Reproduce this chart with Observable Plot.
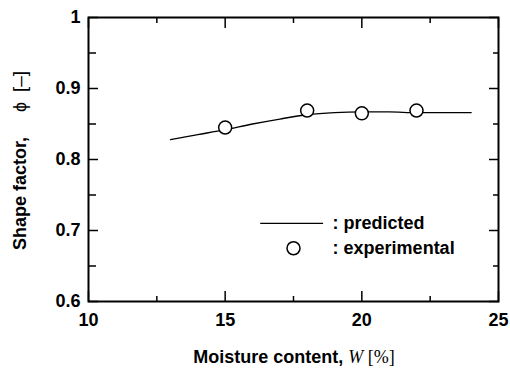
<!DOCTYPE html>
<html>
<head>
<meta charset="utf-8">
<script src="https://cdn.jsdelivr.net/npm/d3@7"></script>
<script src="https://cdn.jsdelivr.net/npm/@observablehq/plot@0.6"></script>
<style>
  html, body { margin: 0; padding: 0; background: #fff; }
  #chart svg { display: block; overflow: visible; }
</style>
</head>
<body>
<div id="chart"></div>
<script>
// ---- data ----
const predictedW   = [13, 14, 15, 16, 17, 18, 19, 20, 21, 22, 23, 24];
const predictedPhi = [0.828, 0.835, 0.842, 0.850, 0.857, 0.863, 0.866, 0.867, 0.867, 0.866, 0.866, 0.866];
const experimentalW   = [15, 18, 20, 22];
const experimentalPhi = [0.845, 0.869, 0.865, 0.869];

const xMajorTicks = [10, 15, 20, 25];
const xMinorTicks = [12.5, 17.5, 22.5];
const yMajorTicks = [0.6, 0.7, 0.8, 0.9, 1];
const yMinorTicks = [0.65, 0.75, 0.85, 0.95];
const xTickLabels = ["10", "15", "20", "25"];
const yTickLabels = ["0.6", "0.7", "0.8", "0.9", "1"];

const legendLabels = [": predicted", ": experimental"];

// ---- layout (legend placement in axis units) ----
const legendLineX = [16.3, 18.6];
const legendRowY = [0.710, 0.675];
const legendSymbolX = 17.5;
const legendTextX = 18.93;

const predicted = predictedW.map((w, i) => ({w, phi: predictedPhi[i]}));
const experimental = experimentalW.map((w, i) => ({w, phi: experimentalPhi[i]}));

const font = "'Liberation Sans', Arial, Helvetica, sans-serif";
const tickText = {fontSize: 18, fontWeight: "bold", fontFamily: font};

const chart = Plot.plot({
  width: 510,
  height: 368,
  marginLeft: 88,
  marginRight: 12,
  marginTop: 17,
  marginBottom: 67,
  style: {fontFamily: font, color: "#000", background: "#fff"},
  x: {domain: [10, 25]},
  y: {domain: [0.6, 1]},
  marks: [
    // inward ticks
    Plot.axisX(xMajorTicks, {anchor: "bottom", tickSize: -10, tickFormat: () => "", label: null, strokeWidth: 1.5}),
    Plot.axisX(xMinorTicks, {anchor: "bottom", tickSize: -5, tickFormat: () => "", label: null, strokeWidth: 1.5}),
    Plot.axisX(xMajorTicks, {anchor: "top", tickSize: -10, tickFormat: () => "", label: null, strokeWidth: 1.5}),
    Plot.axisX(xMinorTicks, {anchor: "top", tickSize: -5, tickFormat: () => "", label: null, strokeWidth: 1.5}),
    Plot.axisY(yMajorTicks, {anchor: "left", tickSize: -10, tickFormat: () => "", label: null, strokeWidth: 1.5}),
    Plot.axisY(yMinorTicks, {anchor: "left", tickSize: -8, tickFormat: () => "", label: null, strokeWidth: 1.5}),
    Plot.axisY(yMajorTicks, {anchor: "right", tickSize: -10, tickFormat: () => "", label: null, strokeWidth: 1.5}),
    Plot.axisY(yMinorTicks, {anchor: "right", tickSize: -6, tickFormat: () => "", label: null, strokeWidth: 1.5}),
    // tick labels
    Plot.axisX(xMajorTicks, {anchor: "bottom", tickSize: 0, tickPadding: 12,
      tickFormat: (d, i) => xTickLabels[i], label: null, ...tickText}),
    Plot.axisY(yMajorTicks, {anchor: "left", tickSize: 0, tickPadding: 8,
      tickFormat: (d, i) => yTickLabels[i], label: null, ...tickText}),
    Plot.frame({stroke: "#000", strokeWidth: 2}),
    // predicted curve
    Plot.line(predicted, {x: "w", y: "phi", curve: "monotone-x", stroke: "#000", strokeWidth: 1.3}),
    // experimental points
    Plot.dot(experimental, {x: "w", y: "phi", r: 6.5, fill: "#fff", stroke: "#000", strokeWidth: 1.5}),
    // legend
    Plot.ruleY([legendRowY[0]], {x1: legendLineX[0], x2: legendLineX[1], stroke: "#000", strokeWidth: 1.3}),
    Plot.dot([legendRowY[1]], {x: () => legendSymbolX, y: d => d, r: 6.5, fill: "#fff", stroke: "#000", strokeWidth: 1.5}),
    Plot.text(legendLabels, {x: () => legendTextX, y: (d, i) => legendRowY[i], text: d => d,
      textAnchor: "start", lineAnchor: "middle", ...tickText})
  ]
});

// axis titles (with italic W / symbol phi as real text)
const svg = d3.select(chart);
const xt = svg.append("text")
  .attr("x", 294).attr("y", 363)
  .attr("text-anchor", "middle")
  .attr("font-family", font).attr("font-size", 18).attr("font-weight", "bold").attr("fill", "#000");
xt.append("tspan").text("Moisture content, ");
xt.append("tspan").attr("font-family", "'Liberation Serif', 'DejaVu Serif', serif")
  .attr("font-style", "italic").attr("font-weight", "normal").text("W");
xt.append("tspan").attr("font-family", "'Liberation Serif', 'DejaVu Serif', serif")
  .attr("font-weight", "normal").text(" [%]");

const yt = svg.append("text")
  .attr("transform", "translate(26,250) rotate(-90)")
  .attr("text-anchor", "start")
  .attr("font-family", font).attr("font-size", 18).attr("font-weight", "bold").attr("fill", "#000");
yt.append("tspan").attr("x", 0).text("Shape factor,");
yt.append("tspan").attr("x", 138).attr("font-weight", "normal").text("\u03D5");
yt.append("tspan").attr("x", 158).attr("font-weight", "normal").attr("font-size", 19).text("[\u2013]");

document.getElementById("chart").appendChild(chart);
</script>
</body>
</html>
